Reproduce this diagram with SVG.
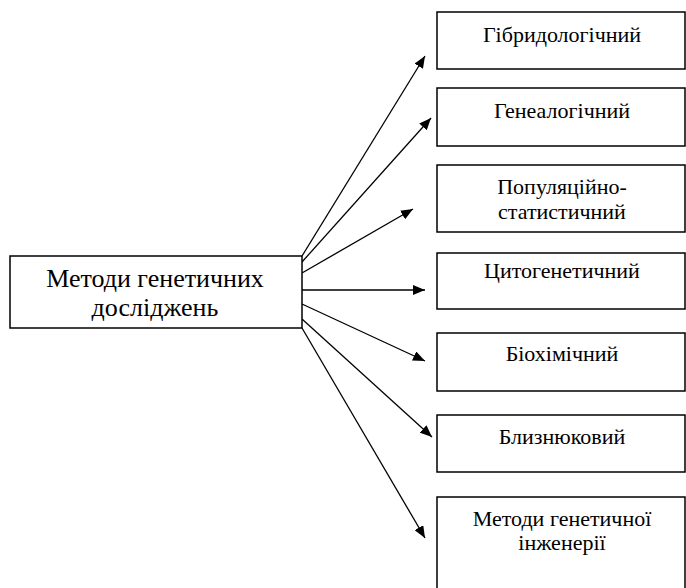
<svg xmlns="http://www.w3.org/2000/svg" width="686" height="588" viewBox="0 0 686 588">
<style>
.box{fill:#fff;stroke:#000;stroke-width:1.5}
.t{font-family:"Liberation Serif","Times New Roman","DejaVu Serif",serif;fill:#000;text-anchor:middle}
.m{font-size:26px}
.s{font-size:22px}
.c{stroke:#000;stroke-width:1.3;fill:none;marker-end:url(#ah)}
</style>
<defs>
<marker id="ah" viewBox="0 0 12 10" refX="12" refY="5" markerWidth="12" markerHeight="10" markerUnits="userSpaceOnUse" orient="auto">
<path d="M0,0 L12,5 L0,10 z" fill="#000"/>
</marker>
</defs>
<g id="connectors">
<line class="c" x1="302" y1="256" x2="425" y2="56"/>
<line class="c" x1="302" y1="262" x2="431" y2="118"/>
<line class="c" x1="302" y1="273" x2="413" y2="209"/>
<line class="c" x1="302" y1="290" x2="425" y2="290"/>
<line class="c" x1="302" y1="304" x2="425" y2="361"/>
<line class="c" x1="302" y1="319" x2="432" y2="437"/>
<line class="c" x1="302" y1="328" x2="425" y2="538"/>
</g>
<g id="main">
<rect class="box" x="10" y="256" width="292" height="72"/>
<text class="t m" x="155" y="287">Методи генетичних</text>
<text class="t m" x="155" y="316">досліджень</text>
</g>
<g id="n1">
<rect class="box" x="437" y="12" width="248" height="57"/>
<text class="t s" x="562" y="42">Гібридологічний</text>
</g>
<g id="n2">
<rect class="box" x="437" y="88" width="248" height="58"/>
<text class="t s" x="562" y="118">Генеалогічний</text>
</g>
<g id="n3">
<rect class="box" x="437" y="165" width="248" height="67"/>
<text class="t s" x="562" y="194">Популяційно-</text>
<text class="t s" x="562" y="219">статистичний</text>
</g>
<g id="n4">
<rect class="box" x="437" y="253" width="248" height="56"/>
<text class="t s" x="562" y="278">Цитогенетичний</text>
</g>
<g id="n5">
<rect class="box" x="437" y="333" width="248" height="58"/>
<text class="t s" x="562" y="361">Біохімічний</text>
</g>
<g id="n6">
<rect class="box" x="437" y="415" width="248" height="57"/>
<text class="t s" x="562" y="444">Близнюковий</text>
</g>
<g id="n7">
<rect class="box" x="437" y="497" width="248" height="100"/>
<text class="t s" x="562" y="526">Методи генетичної</text>
<text class="t s" x="562" y="550">інженерії</text>
</g>
</svg>
